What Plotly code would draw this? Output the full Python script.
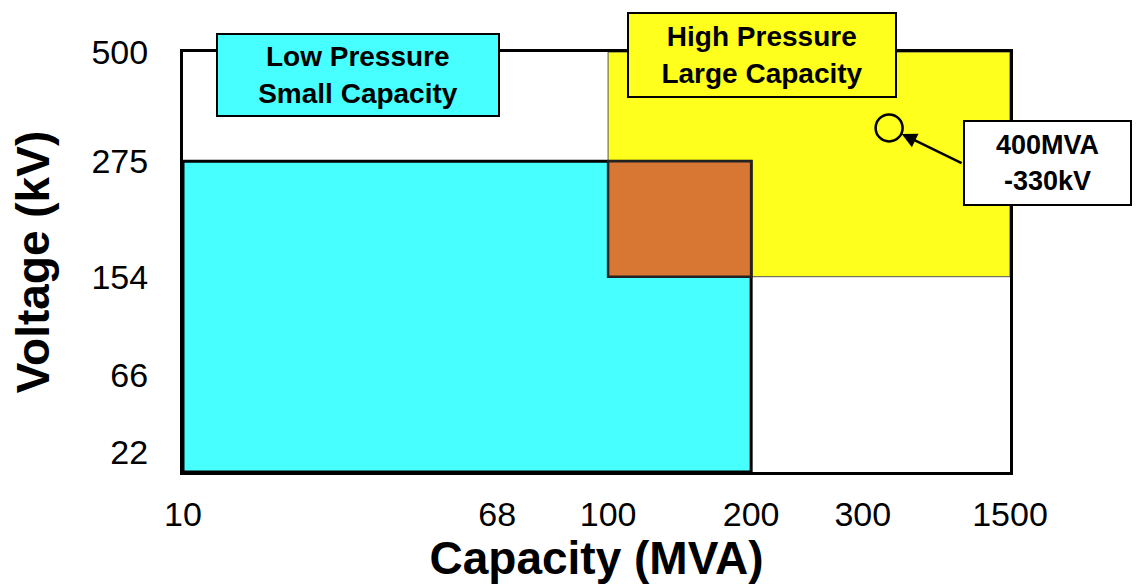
import numpy as np
import plotly.graph_objects as go

# Axis ticks: value labels and where each sits on the schematic (0-100) axes
capacity_ticks = [10, 68, 100, 200, 300, 1500]
capacity_pos = [0.0, 38.0, 51.4, 68.7, 82.2, 100.0]
voltage_ticks = [22, 66, 154, 275, 500]
voltage_pos = [4.8, 23.1, 46.5, 74.0, 100.0]

# Operating regions (capacity range in MVA, voltage range in kV; None = axis floor)
low_cap = [10, 200]
low_volt = [None, 275]
high_cap = [100, 1500]
high_volt = [154, 500]

# Highlighted rating point
point_mva = 400
point_kv = 330

FONT = "Liberation Sans, Arial, sans-serif"


def cap_to_x(v):
    return float(np.interp(np.log10(v), np.log10(capacity_ticks), capacity_pos))


def volt_to_y(v):
    if v is None:
        return 0.0
    return float(np.interp(np.log10(v), np.log10(voltage_ticks), voltage_pos))


fig = go.Figure()

# High-pressure / large-capacity region
fig.add_shape(type="rect", xref="x", yref="y",
              x0=cap_to_x(high_cap[0]), x1=cap_to_x(high_cap[1]),
              y0=volt_to_y(high_volt[0]), y1=volt_to_y(high_volt[1]),
              fillcolor="#FFFF1E", line=dict(color="#555555", width=1), layer="below")
# Low-pressure / small-capacity region
fig.add_shape(type="rect", xref="x", yref="y",
              x0=cap_to_x(low_cap[0]), x1=cap_to_x(low_cap[1]),
              y0=volt_to_y(low_volt[0]), y1=volt_to_y(low_volt[1]),
              fillcolor="#47FFFF", line=dict(color="black", width=3), layer="below")
# Overlap of the two regions
fig.add_shape(type="rect", xref="x", yref="y",
              x0=cap_to_x(max(low_cap[0], high_cap[0])), x1=cap_to_x(min(low_cap[1], high_cap[1])),
              y0=volt_to_y(high_volt[0]), y1=volt_to_y(low_volt[1]),
              fillcolor="#D87634", line=dict(color="#222222", width=2.5), layer="below")

# Rating point marker
fig.add_trace(go.Scatter(
    x=[cap_to_x(point_mva)], y=[volt_to_y(point_kv)], mode="markers",
    marker=dict(symbol="circle-open", size=27, color="black", line=dict(width=2.5)),
    showlegend=False, hoverinfo="skip"))

# Arrow from the callout box to the point
fig.add_annotation(x=cap_to_x(point_mva), y=volt_to_y(point_kv), xref="x", yref="y",
                   text="", showarrow=True, ax=74, ay=36, arrowhead=2, arrowsize=1.2,
                   arrowwidth=2.5, arrowcolor="black", standoff=14)

# Callout box
fig.add_annotation(x=1.045, y=0.736, xref="paper", yref="paper",
                   xanchor="center", yanchor="middle",
                   text=f"<b>{point_mva}MVA<br>-{point_kv}kV</b>", showarrow=False,
                   font=dict(family=FONT, size=27, color="black"),
                   bgcolor="white", bordercolor="black", borderwidth=2,
                   width=163, height=80, borderpad=1, align="center")

# Region labels
fig.add_annotation(x=0.2116, y=0.946, xref="paper", yref="paper",
                   xanchor="center", yanchor="middle",
                   text="<b>Low Pressure<br>Small Capacity</b>", showarrow=False,
                   font=dict(family=FONT, size=28, color="black"),
                   bgcolor="#47FFFF", bordercolor="black", borderwidth=2,
                   width=278, height=78, borderpad=1, align="center")
fig.add_annotation(x=0.700, y=0.994, xref="paper", yref="paper",
                   xanchor="center", yanchor="middle",
                   text="<b>High Pressure<br>Large Capacity</b>", showarrow=False,
                   font=dict(family=FONT, size=28, color="black"),
                   bgcolor="#FFFF1E", bordercolor="black", borderwidth=2,
                   width=264, height=80, borderpad=1, align="center")

fig.update_layout(
    width=1140, height=584,
    margin=dict(l=183, r=130, t=52, b=112),
    paper_bgcolor="white", plot_bgcolor="white",
    font=dict(family=FONT, color="black"),
    showlegend=False,
    xaxis=dict(range=[0, 100], tickmode="array", tickvals=capacity_pos,
               ticktext=[str(t) for t in capacity_ticks],
               tickfont=dict(size=34), showgrid=False, zeroline=False,
               showline=True, mirror=True, linecolor="black", linewidth=3,
               ticks="", ticklabelstandoff=10,
               title=dict(text="<b>Capacity (MVA)</b>", font=dict(size=46), standoff=0)),
    yaxis=dict(range=[0, 100], tickmode="array", tickvals=voltage_pos,
               ticktext=[str(t) for t in voltage_ticks],
               tickfont=dict(size=34), showgrid=False, zeroline=False,
               showline=True, mirror=True, linecolor="black", linewidth=3,
               ticks="", ticklabelstandoff=25,
               title=dict(text="<b>Voltage (kV)</b>", font=dict(size=46), standoff=28)),
)

fig.write_html("out.html")
